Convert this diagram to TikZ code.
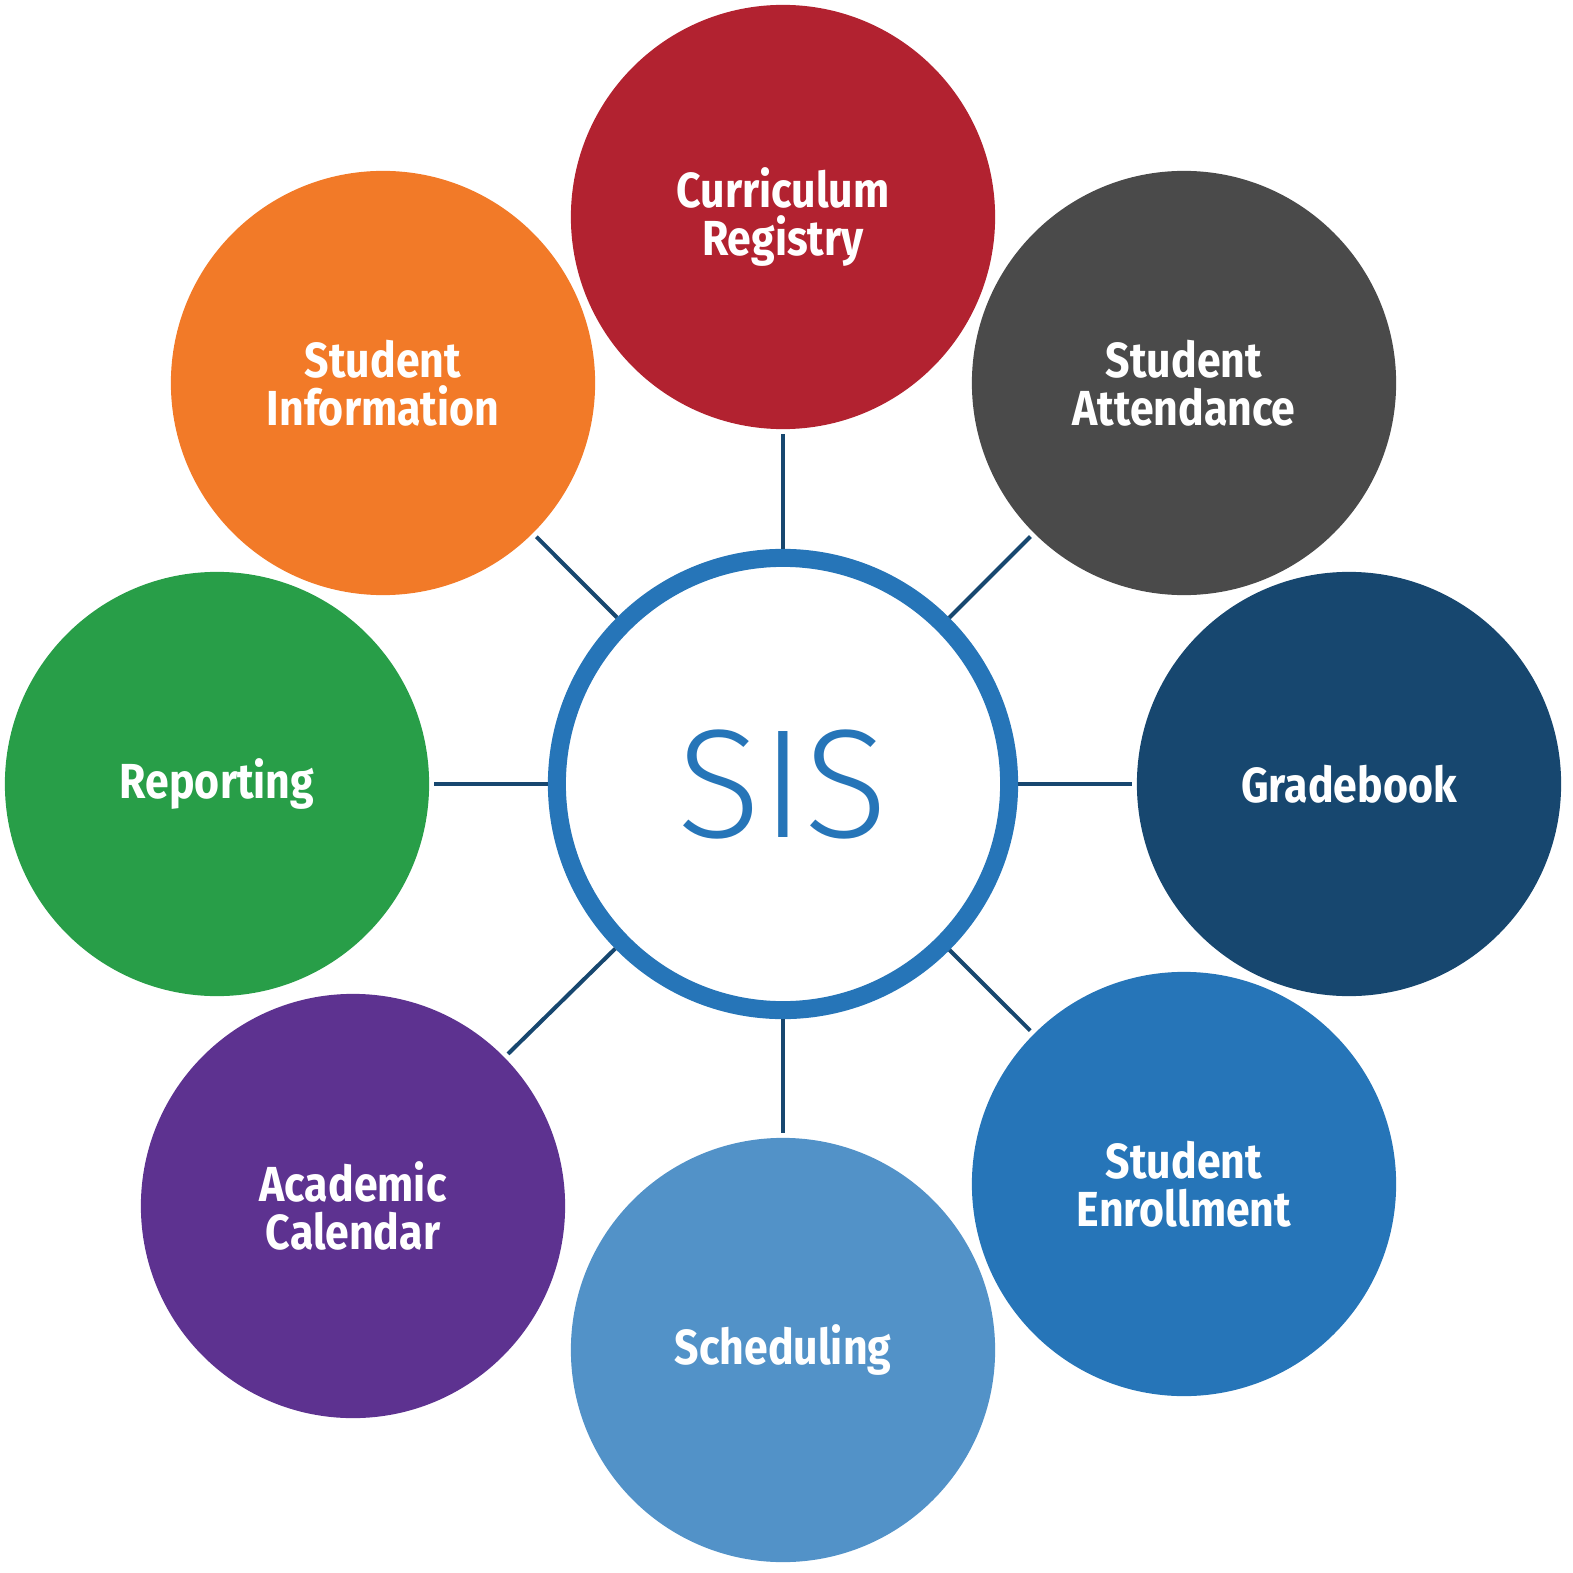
\documentclass[tikz,border=0pt]{standalone}
\usepackage{fontspec}
\setmainfont{Fira Sans}
\newfontfamily\modfont{Fira Sans}[FakeStretch=0.87]
\newfontfamily\hubfont{Fira Sans Light}
\usepackage{xcolor}
\definecolor{sisRed}{HTML}{B22230}
\definecolor{sisGray}{HTML}{4A4A4A}
\definecolor{sisNavy}{HTML}{17476F}
\definecolor{sisBlue}{HTML}{2675B8}
\definecolor{sisSky}{HTML}{5292C8}
\definecolor{sisPurple}{HTML}{5D3290}
\definecolor{sisGreen}{HTML}{289E48}
\definecolor{sisOrange}{HTML}{F27A28}
\usetikzlibrary{positioning}
\tikzset{
    module/.style={
        circle,
        minimum size=4.24cm,
        inner sep=0pt,
        outer sep=0.05cm,
        align=center,
        text=white,
        font=\modfont\fontsize{14}{13.6}\selectfont\bfseries
    },
    hub/.style={
        circle,
        draw=sisBlue,
        fill=white,
        line width=0.18cm,
        minimum size=4.52cm,
        inner sep=0pt,
        text=sisBlue,
        font=\hubfont\fontsize{44}{44}\selectfont
    },
    spoke/.style={
        draw=sisNavy,
        line width=0.04cm
    }
}

\begin{document}
\begin{tikzpicture}[x=0.01cm, y=-0.01cm]
    \useasboundingbox (0,0) rectangle (1572,1573);
    % Hub
    \node[hub] (sis) at (783,784) {SIS};

    % Modules
    \node[module, fill=sisRed] (curriculum) at (783,217) {Curriculum\\Registry};
    \node[module, fill=sisGray] (attendance) at (1184,383) {Student\\Attendance};
    \node[module, fill=sisNavy] (gradebook) at (1349,784) {Gradebook};
    \node[module, fill=sisBlue] (enrollment) at (1184,1184) {Student\\Enrollment};
    \node[module, fill=sisSky] (scheduling) at (783,1350) {Scheduling};
    \node[module, fill=sisPurple] (calendar) at (353,1206) {Academic\\Calendar};
    \node[module, fill=sisGreen] (reporting) at (217,784) {Reporting};
    \node[module, fill=sisOrange] (information) at (383,383) {Student\\Information};

    % Spokes
    \foreach \m in {curriculum,attendance,gradebook,enrollment,scheduling,calendar,reporting,information}
        \draw[spoke] (sis) -- (\m);
\end{tikzpicture}
\end{document}
